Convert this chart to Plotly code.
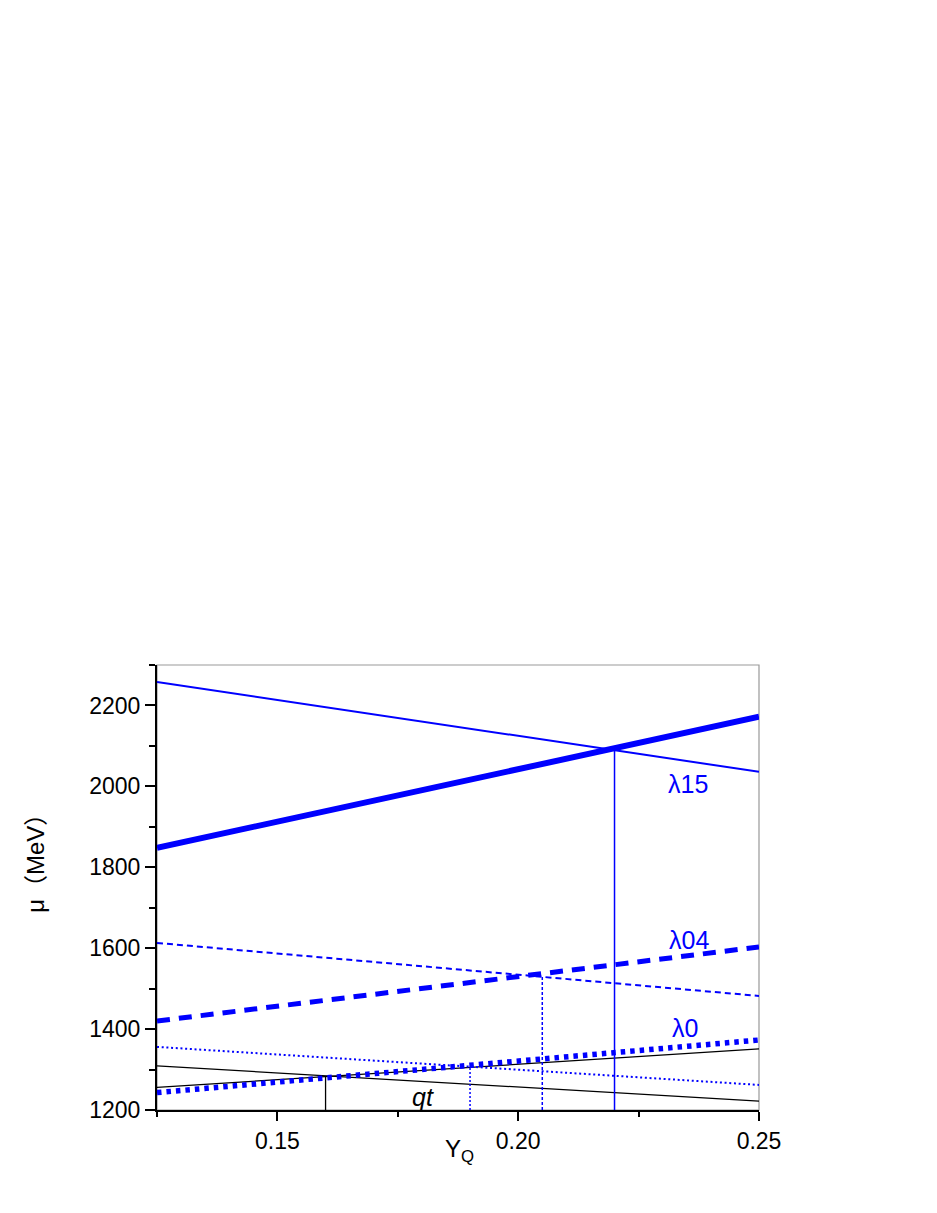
import plotly.graph_objects as go

# endpoints of the straight curves
yq = [0.125, 0.25]
lam15_down = [2258, 2036]
lam15_up = [1848, 2172]
lam04_down = [1613, 1482]
lam04_up = [1420, 1603]
lam0_down = [1356, 1262]
lam0_up = [1243, 1373]
qt_down = [1309, 1222]
qt_up = [1256, 1351]

# crossing points (vertical drop lines)
cross_x = [0.16, 0.19, 0.205, 0.22]
cross_y = [1284, 1308, 1533, 2089]

# curve labels
label_text = ['λ15', 'λ04', 'λ0', '<i>qt</i>']
label_x = [0.2353, 0.2355, 0.2347, 0.1802]
label_y = [2007, 1620, 1402, 1232]

BLUE = '#0000ff'
FONT = 'Liberation Sans'

fig = go.Figure()

def add_line(x, y, color, width, dash='solid'):
    fig.add_trace(go.Scatter(x=x, y=y, mode='lines',
                             line=dict(color=color, width=width, dash=dash),
                             showlegend=False, hoverinfo='skip'))

# qt (black)
add_line(yq, qt_down, 'black', 1.3)
add_line(yq, qt_up, 'black', 1.3)
# lambda 0 (dotted)
add_line(yq, lam0_down, BLUE, 2, '2px,2.7px')
add_line(yq, lam0_up, BLUE, 5.5, '4.5px,5px')
# lambda 04 (dashed)
add_line(yq, lam04_down, BLUE, 2, '6px,4px')
add_line(yq, lam04_up, BLUE, 5, '13px,9px')
# lambda 15 (solid)
add_line(yq, lam15_down, BLUE, 2)
add_line(yq, lam15_up, BLUE, 6)

# vertical drop lines
drop_styles = [('black', 1.3, 'solid'), (BLUE, 1.5, '2px,2px'),
               (BLUE, 1.5, '3px,2px'), (BLUE, 1.5, 'solid')]
for xc, yc, (c, w, d) in zip(cross_x, cross_y, drop_styles):
    add_line([xc, xc], [1200, yc], c, w, d)

for t, x, y in zip(label_text, label_x, label_y):
    fig.add_annotation(x=x, y=y, text=t, showarrow=False,
                       xanchor='center', yanchor='middle',
                       font=dict(family=FONT, size=25,
                                 color='black' if 'qt' in t else BLUE))

# axis titles
fig.add_annotation(xref='paper', yref='paper', x=-0.203, y=0.5685,
                   xanchor='center', yanchor='middle',
                   text='μ（MeV）', textangle=-90, showarrow=False,
                   font=dict(family='Liberation Sans, Noto Sans CJK JP',
                             size=24, color='black'))
fig.add_annotation(xref='paper', yref='paper', x=0.503, y=-0.09,
                   xanchor='center', yanchor='middle',
                   text='Y<sub>Q</sub>', showarrow=False,
                   font=dict(family=FONT, size=24, color='black'))

# gray frame (top/right)
fig.add_shape(type='rect', xref='paper', yref='paper', x0=0, y0=0, x1=1, y1=1,
              line=dict(color='#999999', width=1.2), layer='below')

fig.update_xaxes(range=[0.125, 0.25], showgrid=False, zeroline=False,
                 showline=True, linecolor='black', linewidth=2,
                 ticks='outside', ticklen=9, tickwidth=1.5, tickcolor='black',
                 tick0=0.15, dtick=0.05, tickformat='.2f',
                 minor=dict(ticks='outside', ticklen=5, tickwidth=1.5,
                            tickcolor='black', tick0=0.125, dtick=0.025),
                 tickfont=dict(family=FONT, size=23, color='black'))
fig.update_yaxes(range=[1200, 2300], showgrid=False, zeroline=False,
                 showline=True, linecolor='black', linewidth=2,
                 ticks='outside', ticklen=10, tickwidth=1.5, tickcolor='black',
                 tick0=1200, dtick=200,
                 minor=dict(ticks='outside', ticklen=6, tickwidth=1.5,
                            tickcolor='black', tick0=1200, dtick=100),
                 tickfont=dict(family=FONT, size=23, color='black'))

fig.update_layout(width=937, height=1213,
                  margin=dict(l=149, r=186, t=657, b=111),
                  paper_bgcolor='white', plot_bgcolor='white')

fig.write_html('out.html')
